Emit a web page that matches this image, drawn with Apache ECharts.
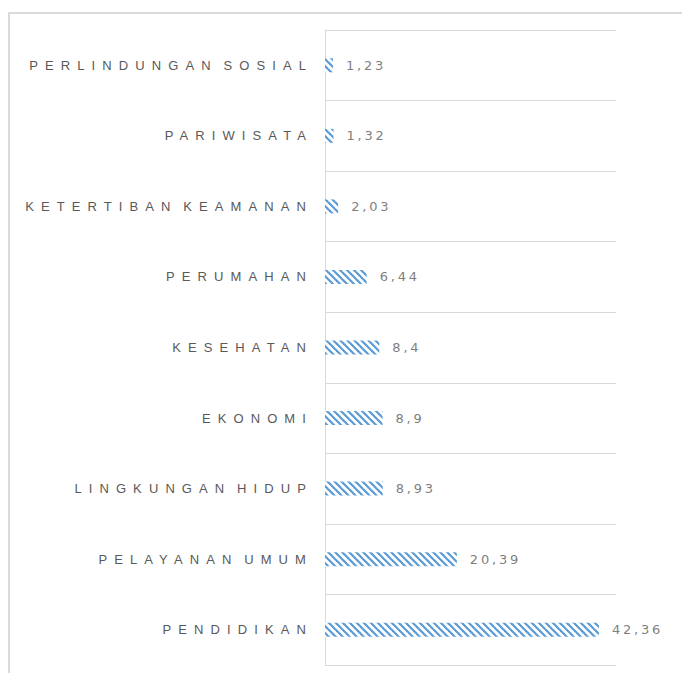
<!DOCTYPE html>
<html>
<head>
<meta charset="utf-8">
<title>Alokasi per Bidang</title>
<script src="https://cdn.jsdelivr.net/npm/echarts@6/dist/echarts.min.js"></script>
<style>
  html, body { margin: 0; padding: 0; background: #ffffff; }
  #chart { width: 682px; height: 673px; }
</style>
</head>
<body>
<div id="chart"></div>
<script>
// Categories listed bottom-to-top along the vertical axis
const categories = [
  'PENDIDIKAN',
  'PELAYANAN UMUM',
  'LINGKUNGAN HIDUP',
  'EKONOMI',
  'KESEHATAN',
  'PERUMAHAN',
  'KETERTIBAN KEAMANAN',
  'PARIWISATA',
  'PERLINDUNGAN SOSIAL'
];
const values = [42.36, 20.39, 8.93, 8.9, 8.4, 6.44, 2.03, 1.32, 1.23];

// Diagonal hatch tile for the bars
function hatchTile(size, color, lineWidth) {
  const c = document.createElement('canvas');
  c.width = size;
  c.height = size;
  const ctx = c.getContext('2d');
  ctx.fillStyle = '#ffffff';
  ctx.fillRect(0, 0, size, size);
  ctx.strokeStyle = color;
  ctx.lineWidth = lineWidth;
  for (let k = -1; k <= 1; k++) {
    ctx.beginPath();
    ctx.moveTo(k * size - 2, -2);
    ctx.lineTo(k * size + size + 2, size + 2);
    ctx.stroke();
  }
  return c;
}

const chart = echarts.init(document.getElementById('chart'), null, { renderer: 'svg' });

const option = {
  animation: false,
  backgroundColor: '#ffffff',
  graphic: [{
    type: 'rect',
    shape: { x: 9, y: 13, width: 720, height: 720 },
    style: { fill: 'none', stroke: '#dadada', lineWidth: 2 },
    silent: true,
    z: 0
  }],
  grid: { left: 325, top: 30, width: 291, height: 635, containLabel: false },
  xAxis: {
    type: 'value',
    min: 0,
    max: 45,
    show: false,
    splitLine: { show: false }
  },
  yAxis: {
    type: 'category',
    data: categories,
    axisLine: { show: true, lineStyle: { color: '#d9d9d9', width: 1 } },
    axisTick: { show: false },
    splitLine: { show: true, lineStyle: { color: '#d9d9d9', width: 1 } },
    axisLabel: {
      interval: 0,
      margin: 12,
      color: '#595959',
      fontSize: 13,
      fontFamily: 'Liberation Sans'
    }
  },
  series: [{
    type: 'bar',
    data: values,
    barWidth: 14,
    itemStyle: {
      color: { image: hatchTile(7, '#5b9bd5', 2.2), repeat: 'repeat' }
    },
    label: {
      show: true,
      position: 'right',
      distance: 13,
      color: '#7f7f7f',
      fontSize: 13,
      fontFamily: 'DejaVu Sans',
      formatter: p => String(p.value).replace('.', ',')
    }
  }]
};

chart.setOption(option);

// Widen the tracking of the axis labels and value labels
function applySpacing() {
  const texts = chart.getDom().querySelectorAll('text');
  texts.forEach(t => {
    const s = t.textContent;
    if (categories.indexOf(s) >= 0) {
      t.setAttribute('letter-spacing', '7.1');
      t.setAttribute('word-spacing', '-5');
    } else if (/^[0-9]+(,[0-9]+)?$/.test(s)) {
      t.setAttribute('letter-spacing', '2.8');
    }
  });
}
applySpacing();
chart.on('finished', applySpacing);
</script>
</body>
</html>
